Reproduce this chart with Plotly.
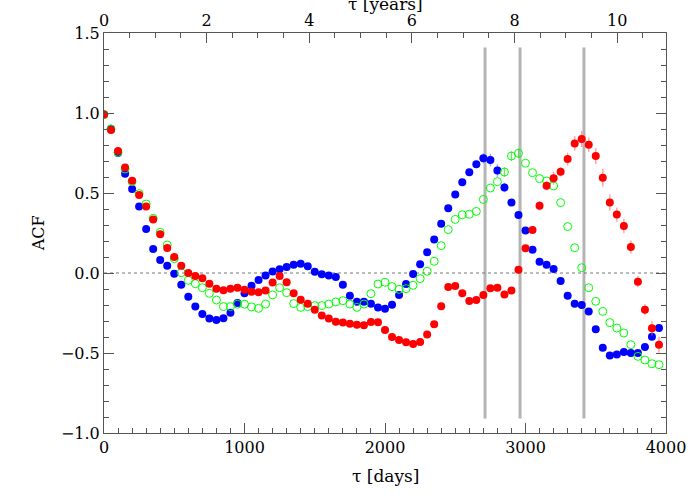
import plotly.graph_objects as go

# lag grid (days)
tau_days = list(range(0, 4000, 50))

acf_blue = [0.99, 0.90, 0.75, 0.62, 0.525, 0.415, 0.275, 0.15, 0.081, 0.046,
            -0.004, -0.073, -0.148, -0.21, -0.256, -0.285, -0.294, -0.283, -0.248, -0.188,
            -0.127, -0.079, -0.044, -0.015, 0.01, 0.023, 0.038, 0.052, 0.058, 0.042,
            0.008, -0.008, -0.015, -0.025, -0.073, -0.142, -0.179, -0.179, -0.192, -0.215,
            -0.223, -0.198, -0.138, -0.069, -0.006, 0.054, 0.129, 0.21, 0.308, 0.404,
            0.49, 0.567, 0.629, 0.679, 0.717, 0.706, 0.64, 0.535, 0.44, 0.362,
            0.266, 0.146, 0.071, 0.052, 0.025, -0.05, -0.142, -0.192, -0.2, -0.24,
            -0.352, -0.467, -0.515, -0.51, -0.494, -0.5, -0.5, -0.462, -0.398, -0.344]
err_blue = [0.02, 0.03, 0.02, 0.01, 0.01, 0.01, 0.01, 0.01, 0.01, 0.01,
            0.01, 0.01, 0.01, 0.01, 0.01, 0.01, 0.01, 0.01, 0.01, 0.01,
            0.01, 0.01, 0.01, 0.01, 0.01, 0.01, 0.01, 0.01, 0.01, 0.01,
            0.01, 0.01, 0.01, 0.01, 0.01, 0.01, 0.01, 0.01, 0.01, 0.01,
            0.01, 0.01, 0.01, 0.01, 0.01, 0.01, 0.01, 0.015, 0.015, 0.015,
            0.015, 0.015, 0.02, 0.02, 0.03, 0.04, 0.04, 0.03, 0.02, 0.015,
            0.015, 0.015, 0.015, 0.015, 0.015, 0.015, 0.015, 0.015, 0.015, 0.015,
            0.015, 0.015, 0.015, 0.015, 0.015, 0.015, 0.015, 0.015, 0.02, 0.02]

acf_red = [0.99, 0.894, 0.7625, 0.66, 0.577, 0.4875, 0.415, 0.335, 0.242, 0.156,
           0.10, 0.046, 0.0, -0.019, -0.033, -0.067, -0.098, -0.108, -0.098, -0.092,
           -0.104, -0.117, -0.121, -0.11, -0.06, -0.019, -0.058, -0.127, -0.167, -0.192,
           -0.229, -0.265, -0.285, -0.304, -0.31, -0.317, -0.323, -0.327, -0.306, -0.308,
           -0.357, -0.40, -0.419, -0.433, -0.444, -0.431, -0.385, -0.321, -0.208, -0.0875,
           -0.081, -0.127, -0.175, -0.169, -0.1375, -0.096, -0.092, -0.135, -0.11, 0.02,
           0.155, 0.269, 0.42, 0.546, 0.592, 0.633, 0.7125, 0.81, 0.8375, 0.802,
           0.731, 0.596, 0.44, 0.365, 0.294, 0.1625, -0.054, -0.229, -0.346, -0.448]
err_red = [0.01, 0.01, 0.01, 0.01, 0.01, 0.01, 0.01, 0.01, 0.01, 0.01,
           0.01, 0.01, 0.01, 0.01, 0.01, 0.01, 0.01, 0.01, 0.01, 0.01,
           0.01, 0.01, 0.01, 0.01, 0.01, 0.01, 0.01, 0.01, 0.01, 0.01,
           0.01, 0.01, 0.01, 0.01, 0.01, 0.01, 0.01, 0.01, 0.01, 0.01,
           0.01, 0.015, 0.015, 0.015, 0.015, 0.015, 0.015, 0.015, 0.015, 0.015,
           0.015, 0.02, 0.02, 0.02, 0.02, 0.02, 0.02, 0.02, 0.02, 0.02,
           0.02, 0.025, 0.03, 0.03, 0.04, 0.03, 0.04, 0.045, 0.05, 0.045,
           0.05, 0.055, 0.05, 0.045, 0.045, 0.04, 0.035, 0.035, 0.045, 0.05]

acf_green = [0.99, 0.90, 0.754, 0.65, 0.571, 0.496, 0.431, 0.342, 0.254, 0.175,
             0.09, 0.002, -0.046, -0.067, -0.092, -0.127, -0.169, -0.21, -0.21, -0.195,
             -0.195, -0.212, -0.221, -0.194, -0.137, -0.092, -0.123, -0.191, -0.215, -0.21,
             -0.204, -0.204, -0.194, -0.181, -0.173, -0.194, -0.215, -0.194, -0.129, -0.069,
             -0.058, -0.085, -0.102, -0.098, -0.077, -0.035, 0.011, 0.073, 0.171, 0.271,
             0.335, 0.364, 0.367, 0.385, 0.46, 0.531, 0.571, 0.631, 0.731, 0.748,
             0.686, 0.627, 0.59, 0.575, 0.544, 0.44, 0.29, 0.158, 0.033, -0.092,
             -0.177, -0.24, -0.31, -0.344, -0.375, -0.448, -0.521, -0.544, -0.567, -0.573]
err_green = [0.0] * 57 + [0.03, 0.03, 0.03] + [0.0] * 20

period_lines = [2712, 2961, 3416]
period_line_span = [-0.91, 1.41]
year_ticks = [0, 2, 4, 6, 8, 10]
days_per_year = 365.25

FONT = "DejaVu Serif"

fig = go.Figure()

fig.add_trace(go.Scatter(
    x=tau_days, y=acf_blue, mode="markers",
    marker=dict(color="#0000ff", size=8, line=dict(width=0)),
    error_y=dict(type="data", array=err_blue, color="rgba(90,90,255,0.55)", thickness=1.5, width=0),
    showlegend=False))
fig.add_trace(go.Scatter(
    x=tau_days, y=acf_green, mode="markers",
    marker=dict(color="#00ff00", size=8, symbol="circle-open", line=dict(width=1)),
    error_y=dict(type="data", array=err_green, color="rgba(0,220,0,0.6)", thickness=1.2, width=0),
    showlegend=False))
fig.add_trace(go.Scatter(
    x=tau_days, y=acf_red, mode="markers",
    marker=dict(color="#ff0000", size=8, line=dict(width=0)),
    error_y=dict(type="data", array=err_red, color="rgba(255,90,90,0.55)", thickness=1.5, width=0),
    showlegend=False))

# invisible trace to anchor the top (years) axis
fig.add_trace(go.Scatter(x=[0, 4000 / days_per_year], y=[0, 0], xaxis="x2", mode="markers",
                         marker=dict(opacity=0), hoverinfo="skip", showlegend=False))

for xv in period_lines:
    fig.add_shape(type="line", x0=xv, x1=xv, y0=period_line_span[0], y1=period_line_span[1],
                  xref="x", yref="y", line=dict(color="#b4b4b4", width=3), layer="below")

fig.add_shape(type="line", x0=0, x1=4000, y0=0, y1=0, xref="x", yref="y",
              line=dict(color="#777777", width=1, dash="dot"), layer="below")

axis_col = "#555555"
fig.update_layout(
    width=700, height=500,
    margin=dict(l=104, r=34, t=33, b=67, autoexpand=False),
    paper_bgcolor="white", plot_bgcolor="white",
    font=dict(family=FONT, size=16, color="black"),
    xaxis=dict(range=[0, 4000], tickvals=[0, 1000, 2000, 3000, 4000], automargin=False,
               ticks="inside", ticklen=10, tickcolor=axis_col, tickwidth=1,
               minor=dict(dtick=100, ticklen=5, tickcolor=axis_col, ticks="inside"),
               showline=True, linecolor=axis_col, linewidth=1, mirror=False,
               showgrid=False, zeroline=False, tickfont=dict(family=FONT, size=16)),
    xaxis2=dict(overlaying="x", side="top", range=[0, 4000 / days_per_year], automargin=False,
                tickvals=year_ticks, ticks="inside", ticklen=10, tickcolor=axis_col,
                minor=dict(dtick=0.5, ticklen=5, tickcolor=axis_col, ticks="inside"),
                showline=True, linecolor=axis_col, linewidth=1,
                showgrid=False, zeroline=False, tickfont=dict(family=FONT, size=16)),
    yaxis=dict(range=[-1.0, 1.5], dtick=0.5, tick0=0, tickformat=".1f", automargin=False,
               ticks="inside", ticklen=10, tickcolor=axis_col,
               minor=dict(dtick=0.1, ticklen=5, tickcolor=axis_col, ticks="inside"),
               showline=True, linecolor=axis_col, linewidth=1, mirror="ticks",
               showgrid=False, zeroline=False, tickfont=dict(family=FONT, size=16)),
)

fig.add_annotation(text="τ [days]", xref="paper", yref="paper", x=0.5, y=-0.1075,
                   xanchor="center", yanchor="middle", showarrow=False,
                   font=dict(family=FONT, size=17))
fig.add_annotation(text="ACF", xref="paper", yref="paper", x=-0.117, y=0.5,
                   xanchor="center", yanchor="middle", textangle=-90, showarrow=False,
                   font=dict(family=FONT, size=16))
fig.add_annotation(text="τ [years]", xref="paper", yref="paper", x=0.5, y=1.043,
                   xanchor="center", yanchor="bottom", showarrow=False,
                   font=dict(family=FONT, size=17))

# remove the default page margin so the 700x500 figure fills the window exactly
fig.write_html("out.html", config={"displayModeBar": False},
               post_script="document.body.style.margin='0';")
